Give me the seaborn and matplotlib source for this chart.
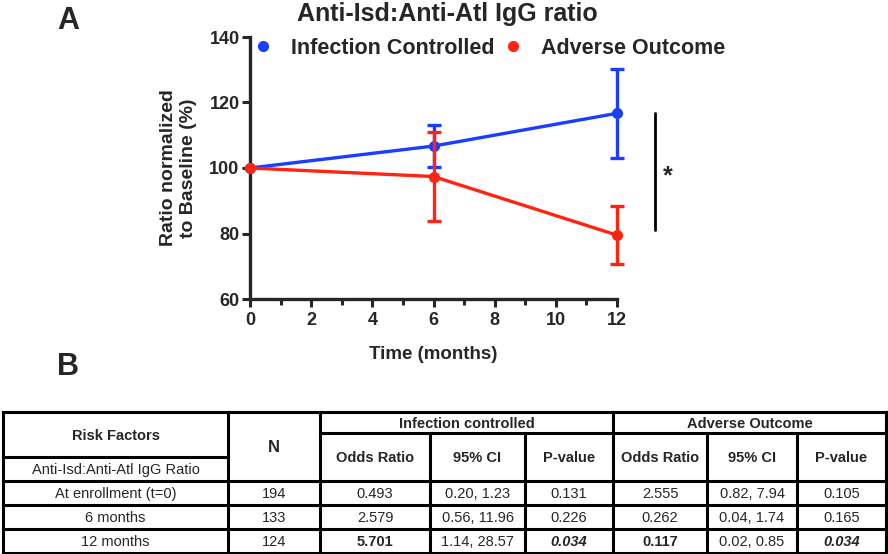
import pandas as pd
import matplotlib.pyplot as plt
import seaborn as sns
from matplotlib.ticker import MultipleLocator

# Dados do painel A (média ± EPM)
months = [0, 6, 12]
controlled_mean = [100, 106.7, 116.7]
controlled_sem = [0, 6.3, 13.5]
adverse_mean = [100, 97.4, 79.5]
adverse_sem = [0, 13.6, 8.9]

# Dados do painel B (tabela)
risk_rows = ["At enrollment (t=0)", "6 months", "12 months"]
n_values = ["194", "133", "124"]
ic_or = ["0.493", "2.579", "5.701"]
ic_ci = ["0.20, 1.23", "0.56, 11.96", "1.14, 28.57"]
ic_p = ["0.131", "0.226", "0.034"]
ao_or = ["2.555", "0.262", "0.117"]
ao_ci = ["0.82, 7.94", "0.04, 1.74", "0.02, 0.85"]
ao_p = ["0.105", "0.165", "0.034"]

blue = "#1a3dff"
red = "#ff2312"

df = pd.DataFrame({
    "Time (months)": months * 2,
    "ratio": controlled_mean + adverse_mean,
    "sem": controlled_sem + adverse_sem,
    "group": ["Infection Controlled"] * 3 + ["Adverse Outcome"] * 3,
})

sns.set_style("ticks")
plt.rcParams["font.family"] = ["Liberation Sans", "DejaVu Sans"]
plt.rcParams["font.weight"] = "bold"

fig = plt.figure(figsize=(8.88, 5.54), dpi=100)
W, H = 888, 554
ax = fig.add_axes([250 / W, 1 - 299 / H, 367 / W, 262 / H])

sns.lineplot(data=df, x="Time (months)", y="ratio", hue="group",
             palette={"Infection Controlled": blue, "Adverse Outcome": red},
             marker="o", markersize=8, markeredgewidth=0, linewidth=2.4,
             errorbar=None, ax=ax, legend=False, clip_on=False, zorder=3)

for mean, sem, color in [(controlled_mean, controlled_sem, blue), (adverse_mean, adverse_sem, red)]:
    ax.errorbar(months[1:], mean[1:], yerr=sem[1:], fmt="none", ecolor=color,
                elinewidth=2.4, capsize=5, capthick=2.4, zorder=3, clip_on=False)

# legenda
for label, color in [("Infection Controlled", blue), ("Adverse Outcome", red)]:
    ax.plot([], [], "o", color=color, markersize=7, label=label)
ax.legend(loc="center left", bbox_to_anchor=(-0.022, 0.958), ncol=2, frameon=False,
          prop={"size": 15.5, "weight": "bold"}, handletextpad=0.7, columnspacing=0.25,
          handlelength=1.2, borderaxespad=0)

# barra de significância
ax.plot([13.24, 13.24], [controlled_mean[-1], adverse_mean[-1] + 1.5], color="black",
        lw=2, clip_on=False)
ax.text(13.67, (controlled_mean[-1] + adverse_mean[-1]) / 2 - 0.5, "*", fontsize=18,
        fontweight="bold", ha="center", va="center")

ax.set_xlim(0, 12)
ax.set_ylim(60, 140)
ax.xaxis.set_major_locator(MultipleLocator(2))
ax.xaxis.set_minor_locator(MultipleLocator(1))
ax.yaxis.set_major_locator(MultipleLocator(20))
ax.tick_params(axis="both", which="major", labelsize=13, width=2.2, length=6)
ax.tick_params(axis="y", which="major", pad=1.5)
ax.tick_params(axis="x", which="minor", width=2.2, length=4)
for lab in ax.get_xticklabels() + ax.get_yticklabels():
    lab.set_fontweight("bold")
for s in ["left", "bottom"]:
    ax.spines[s].set_linewidth(2.4)
sns.despine(ax=ax)
ax.set_xlabel("Time (months)", fontsize=13.5, fontweight="bold", labelpad=12)
ax.set_ylabel("Ratio normalized\nto Baseline (%)", fontsize=14, fontweight="bold",
              labelpad=9)

fig.text(447 / W, 1 - 14 / H, "Anti-Isd:Anti-Atl IgG ratio", fontsize=18,
         fontweight="bold", ha="center", va="center")
fig.text(68 / W, 1 - 21 / H, "A", fontsize=22, fontweight="bold", ha="center", va="center")
fig.text(68 / W, 1 - 367 / H, "B", fontsize=22, fontweight="bold", ha="center", va="center")

# Painel B: tabela desenhada em coordenadas de pixel
tab = fig.add_axes([0, 0, 1, 1], zorder=-1)
tab.set_xlim(0, W)
tab.set_ylim(H, 0)
tab.axis("off")

cols = [3, 228, 320, 430, 525, 613, 707, 797, 886]
top, mid_ic, mid_rf, head, r1, r2, bot = 412, 433, 457, 481, 505, 529, 553
lw = 2.2

def hline(y, x0, x1):
    tab.plot([x0, x1], [y, y], color="black", lw=lw, solid_capstyle="projecting")

def vline(x, y0, y1):
    tab.plot([x, x], [y0, y1], color="black", lw=lw, solid_capstyle="projecting")

for y in [top, head, r1, r2, bot]:
    hline(y, cols[0], cols[-1])
hline(mid_ic, cols[2], cols[-1])
hline(mid_rf, cols[0], cols[1])
for x in [cols[0], cols[1], cols[2], cols[5], cols[8]]:
    vline(x, top, bot)
for x in [cols[3], cols[4], cols[6], cols[7]]:
    vline(x, mid_ic, bot)

def cell(x0, x1, y0, y1, s, fontsize=10.5, **kw):
    tab.text((x0 + x1) / 2, (y0 + y1) / 2 + 1, s, ha="center", va="center",
             fontsize=fontsize, **kw)

cell(cols[0], cols[1], top, mid_rf, "Risk Factors", fontweight="bold")
cell(cols[0], cols[1], mid_rf, head, "Anti-Isd:Anti-Atl IgG Ratio", fontweight="normal")
cell(cols[1], cols[2], top, head, "N", fontsize=12, fontweight="bold")
cell(cols[2], cols[5], top, mid_ic, "Infection controlled", fontweight="bold")
cell(cols[5], cols[8], top, mid_ic, "Adverse Outcome", fontweight="bold")
for i, h in enumerate(["Odds Ratio", "95% CI", "P-value"] * 2):
    cell(cols[2 + i], cols[3 + i], mid_ic, head, h, fontweight="bold")

row_edges = [head, r1, r2, bot]
for r in range(3):
    y0, y1 = row_edges[r], row_edges[r + 1]
    cell(cols[0], cols[1], y0, y1, risk_rows[r], fontweight="normal")
    cell(cols[1], cols[2], y0, y1, n_values[r], fontweight="normal")
    for k, (o, c, p) in enumerate([(ic_or, ic_ci, ic_p), (ao_or, ao_ci, ao_p)]):
        sig = float(p[r]) < 0.05
        base = 2 + 3 * k
        cell(cols[base], cols[base + 1], y0, y1, o[r],
             fontweight="bold" if sig else "normal")
        cell(cols[base + 1], cols[base + 2], y0, y1, c[r], fontweight="normal")
        cell(cols[base + 2], cols[base + 3], y0, y1, p[r],
             fontweight="bold" if sig else "normal",
             fontstyle="italic" if sig else "normal")

plt.savefig("out.png", dpi=100)
